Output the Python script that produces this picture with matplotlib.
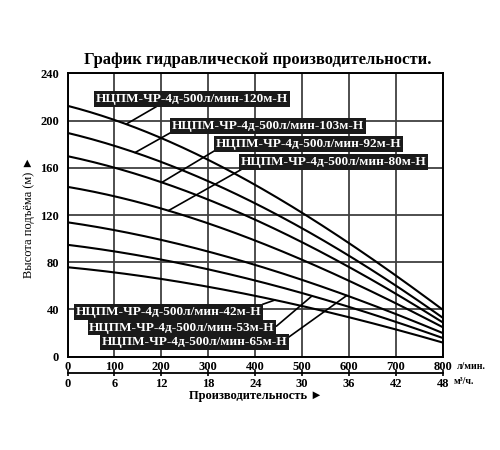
import matplotlib.pyplot as plt
import numpy as np

# Flow, l/min
flow = [0, 100, 200, 300, 400, 500, 600, 700, 800]

# Head (m) for each pump model
head_120 = [213, 200, 185, 167, 146, 122, 96, 68, 40]
head_103 = [190, 178, 165, 149, 130, 109, 85, 60, 33]
head_92 = [170, 160, 148, 133, 116, 97, 76, 53, 29]
head_80 = [144, 136, 125, 113, 99, 82, 64, 45, 25]
head_65 = [114, 107, 99, 89, 78, 65, 51, 36, 20]
head_53 = [95, 89, 82, 74, 65, 54, 42, 29, 16]
head_42 = [76, 71, 66, 59, 52, 43, 33, 23, 12]

curves = [head_120, head_103, head_92, head_80, head_65, head_53, head_42]
names = [
    "НЦПМ-ЧР-4д-500л/мин-120м-Н",
    "НЦПМ-ЧР-4д-500л/мин-103м-Н",
    "НЦПМ-ЧР-4д-500л/мин-92м-Н",
    "НЦПМ-ЧР-4д-500л/мин-80м-Н",
    "НЦПМ-ЧР-4д-500л/мин-65м-Н",
    "НЦПМ-ЧР-4д-500л/мин-53м-Н",
    "НЦПМ-ЧР-4д-500л/мин-42м-Н",
]

x_ticks = [0, 100, 200, 300, 400, 500, 600, 700, 800]
y_ticks = [0, 40, 80, 120, 160, 200, 240]
m3h_ticks = [0, 6, 12, 18, 24, 30, 36, 42, 48]

# label box centre (flow, head), leader foot on curve (flow), leader anchor on box
label_pos = [(265, 218.4), (427, 195.5), (514, 180.3), (566, 165.0),
             (270, 12.5), (244, 24.7), (216, 37.9)]
leader_at = [125, 144, 201, 215, 595, 521, 442]
leader_rel = [(0.33, 0), (0, 0), (0, 0), (0.02, 0), (1, 0.8), (1, 0.5), (0.98, 1)]

serif = ["Liberation Serif", "DejaVu Serif"]
plt.rcParams["font.family"] = serif

fig = plt.figure(figsize=(5, 4.5), dpi=100)
ax = fig.add_axes([0.135, 0.2074, 0.751, 0.6293])

# smooth each curve through the read points
q_fine = np.linspace(flow[0], flow[-1], 200)
smooth = []
for h in curves:
    coef = np.polyfit(flow, h, 3)
    smooth.append(np.polyval(coef, q_fine))
    ax.plot(q_fine, smooth[-1], color="black", linewidth=1.5)

ax.set_xlim(0, 800)
ax.set_ylim(0, 240)
ax.set_xticks(x_ticks)
ax.set_yticks(y_ticks)
ax.grid(True, color="#404040", linewidth=1.3)
ax.set_axisbelow(True)
for sp in ax.spines.values():
    sp.set_linewidth(1.4)
ax.tick_params(axis="both", length=0, labelsize=9)
ax.tick_params(axis="x", pad=3)
ax.tick_params(axis="y", pad=6)
for lab in ax.get_xticklabels() + ax.get_yticklabels():
    lab.set_fontweight("bold")

# cubic metres per hour axis
sec = ax.secondary_xaxis(-0.057, functions=(lambda q: q * 0.06, lambda m: m / 0.06))
sec.set_xticks(m3h_ticks)
sec.spines["bottom"].set_linewidth(1.3)
sec.tick_params(direction="inout", length=5, width=1.2, labelsize=9, pad=1)
for lab in sec.get_xticklabels():
    lab.set_fontweight("bold")

# model labels with leader lines
for name, h, pos, q, rel in zip(names, smooth, label_pos, leader_at, leader_rel):
    ax.annotate(
        name,
        xy=(q, np.interp(q, q_fine, h)),
        xytext=pos,
        ha="center",
        va="center",
        color="white",
        fontsize=9.5,
        fontweight="bold",
        bbox=dict(boxstyle="square,pad=0.12", facecolor="#1a1a1a", edgecolor="none"),
        arrowprops=dict(arrowstyle="-", color="black", linewidth=1.2,
                        relpos=rel, shrinkA=0, shrinkB=0),
        annotation_clip=False,
    )

fig.text(0.516, 0.866, "График гидравлической производительности.",
         ha="center", va="center", fontsize=12, fontweight="bold")
fig.text(0.058, 0.518, "Высота подъёма (м) ►", rotation=90,
         ha="center", va="center", fontsize=9)
fig.text(0.512, 0.12, "Производительность ►", ha="center", va="center",
         fontsize=9, fontweight="bold")
fig.text(0.913, 0.186, "л/мин.", ha="left", va="center", fontsize=7, fontweight="bold")
fig.text(0.908, 0.152, "м³/ч.", ha="left", va="center", fontsize=7, fontweight="bold")

fig.savefig("out.png", dpi=100, facecolor="white")
